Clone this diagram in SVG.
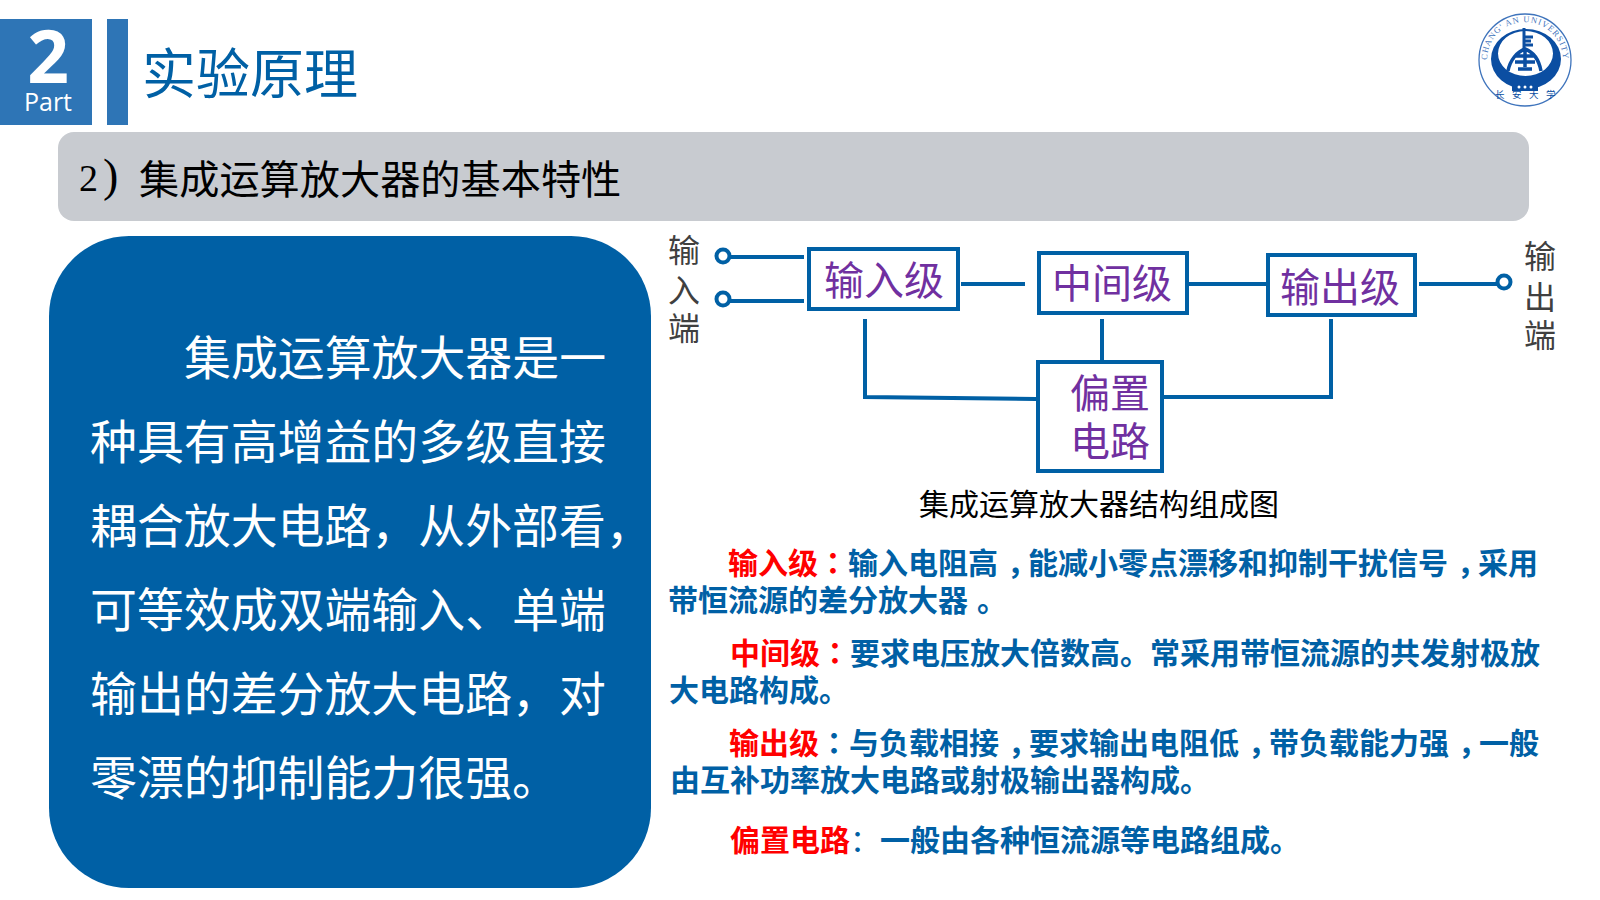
<svg xmlns="http://www.w3.org/2000/svg" width="1600" height="900" viewBox="0 0 1600 900">
<style>
text{font-family:"Noto Sans CJK SC","Noto Sans",sans-serif}
.box{fill:#fff;stroke:#0060A5;stroke-width:4}
.lbl{fill:#7030A0;font-size:40px}
.side{fill:#404040;font-size:32px;text-anchor:middle}
.conn{fill:none;stroke:#0060A5;stroke-width:4}
.term{fill:#fff;stroke:#0060A5;stroke-width:4}
.body{fill:#fff;font-size:46.9px}
.desc{fill:#0060A5;font-size:30px;font-weight:700}
.red{fill:#FF0000}
.p{font-family:"Noto Sans CJK TC",sans-serif}
</style>
<defs><path id="ringText" d="M1487 60A38 38 0 1 1 1563 60"/></defs>
<g id="header">
<rect x="0" y="19" width="92" height="106" fill="#2E75B6"/>
<rect x="107" y="19" width="21" height="106" fill="#2E75B6"/>
<text x="48" y="83" text-anchor="middle" fill="#fff" font-size="73" font-weight="700" style="font-family:'Open Sans',sans-serif">2</text>
<text x="48" y="111" text-anchor="middle" fill="#fff" font-size="25" style="font-family:'Open Sans',sans-serif">Part</text>
<text x="142" y="94" fill="#0060A5" font-size="54">实验原理</text>
</g>
<g id="logo">
<circle cx="1525" cy="60" r="46" fill="none" stroke="#3F74BC" stroke-width="1.3"/>
<text font-size="8.5" fill="#3F74BC" textLength="118" style="font-family:'Liberation Serif',serif"><textPath href="#ringText">CHANG' AN UNIVERSITY</textPath></text>
<path fill="#0B4EA2" fill-rule="evenodd" d="M1491 59a35 30 0 1 0 70 0a35 30 0 1 0 -70 0ZM1498 53.500a27.500 22.500 0 1 1 55 0a27.500 22.500 0 1 1 -55 0Z"/>
<path fill="none" stroke="#0B4EA2" stroke-width="3" d="M1524 28V50M1524 37h9M1524 41h7M1524 45h9"/>
<path fill="none" stroke="#0B4EA2" stroke-width="3.500" d="M1508 71C1510 60 1517 52 1525 49C1533 52 1539 60 1541 71M1516 56h18M1515 62h20M1525 51v16M1518 69h14"/>
<path fill="#0B4EA2" d="M1515 76h20v7h3v8h-26v-8h3Z"/>
<circle cx="1519" cy="87" r="1.500" fill="#fff"/><circle cx="1525" cy="87" r="1.500" fill="#fff"/><circle cx="1531" cy="87" r="1.500" fill="#fff"/>
<text x="1495" y="98" font-size="9.500" fill="#0B4EA2" letter-spacing="7.500">长安大学</text>
</g>
<g id="subtitle">
<rect x="58" y="132" width="1471" height="89" rx="16" fill="#C8CBD0"/>
<text y="193" font-size="40.200" fill="#000"><tspan x="79" y="191" style="font-family:'Liberation Serif',serif" font-size="38">2</tspan><tspan x="103" y="191" style="font-family:'Liberation Serif',serif" font-size="46">)</tspan><tspan x="139" y="194">集成运算放大器的基本特性</tspan></text>
</g>
<g id="summary">
<rect x="49" y="236" width="602" height="652" rx="80" fill="#0060A5"/>
<text class="body" x="184" y="375">集成运算放大器是一</text>
<text class="body" x="90" y="459">种具有高增益的多级直接</text>
<text class="body" x="90" y="543">耦合放大电路，从外部看，</text>
<text class="body" x="90" y="627">可等效成双端输入、单端</text>
<text class="body" x="90" y="711">输出的差分放大电路，对</text>
<text class="body" x="90" y="795">零漂的抑制能力很强。</text>
</g>
<g id="connectors">
<path class="conn" d="M730 257H804M730 301H804M961 284H1025M1188 284H1266M1419 284H1497"/>
<path class="conn" d="M865 319V397L1036 399M1102 319V360M1331 319V397H1163"/>
<circle class="term" cx="723" cy="256" r="6.500"/>
<circle class="term" cx="723" cy="299" r="6.500"/>
<circle class="term" cx="1504" cy="282" r="6.500"/>
</g>
<g id="input-labels"><text class="side" x="684" y="262">输</text><text class="side" x="684" y="302">入</text><text class="side" x="684" y="340">端</text></g>
<g id="output-labels"><text class="side" x="1540" y="268">输</text><text class="side" x="1540" y="309">出</text><text class="side" x="1540" y="347">端</text></g>
<g id="input-stage"><rect class="box" x="809" y="249" width="149" height="60"/><text class="lbl" x="824" y="295">输入级</text></g>
<g id="middle-stage"><rect class="box" x="1039" y="253" width="148" height="60"/><text class="lbl" x="1052" y="298">中间级</text></g>
<g id="output-stage"><rect class="box" x="1268" y="255" width="147" height="60"/><text class="lbl" x="1280" y="302">输出级</text></g>
<g id="bias"><rect class="box" x="1038" y="362" width="124" height="109"/><text class="lbl" x="1070" y="408">偏置</text><text class="lbl" x="1070" y="456">电路</text></g>
<g id="caption"><text x="919" y="515" font-size="30" fill="#000">集成运算放大器结构组成图</text></g>
<g id="descriptions">
<text class="desc" x="728" y="574"><tspan class="red">输入级<tspan class="p">：</tspan></tspan>输入电阻高<tspan dx="9">，</tspan><tspan dx="-9">能</tspan>减小零点漂移和抑制干扰信号<tspan dx="9">，</tspan><tspan dx="-9">采</tspan>用</text>
<text class="desc" x="668" y="611">带恒流源的差分放大器<tspan dx="9">。</tspan></text>
<text class="desc" x="730" y="664"><tspan class="red">中间级<tspan class="p">：</tspan></tspan>要求电压放大倍数高。常采用带恒流源的共发射极放</text>
<text class="desc" x="669" y="701">大电路构成。</text>
<text class="desc" x="729" y="754"><tspan class="red">输出级</tspan><tspan class="p">：</tspan>与负载相接<tspan dx="9">，</tspan><tspan dx="-9">要</tspan>求输出电阻低<tspan dx="9">，</tspan><tspan dx="-9">带</tspan>负载能力强<tspan dx="9">，</tspan><tspan dx="-9">一</tspan>般</text>
<text class="desc" x="670" y="791">由互补功率放大电路或射极输出器构成。</text>
<text class="desc" x="730" y="851"><tspan class="red">偏置电路</tspan><tspan font-weight="400">：</tspan>一般由各种恒流源等电路组成。</text>
</g>
</svg>
